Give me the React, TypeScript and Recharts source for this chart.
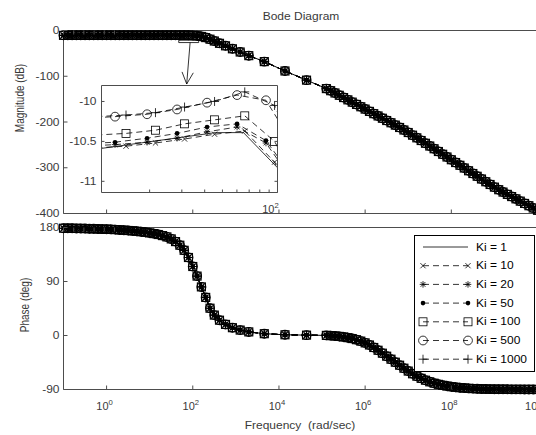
import React from 'react';
import { LineChart, Line, XAxis, YAxis, Legend, ReferenceArea, ReferenceLine } from 'recharts';

// log10 of frequency in rad/sec, shared by magnitude and phase
const logFreq = [
  -1.0, -0.9, -0.8, -0.7, -0.6, -0.5, -0.4, -0.3, -0.2, -0.1,
  0.0, 0.1, 0.2, 0.3, 0.4, 0.5, 0.6, 0.7, 0.8, 0.9,
  1.0, 1.1, 1.2, 1.3, 1.4, 1.5, 1.6, 1.7, 1.8, 1.9,
  2.0, 2.1, 2.2, 2.3, 2.4, 2.5, 2.62, 2.76, 2.92, 3.1,
  3.3, 3.66, 4.14, 4.64, 5.1, 5.2, 5.3, 5.4, 5.5, 5.6,
  5.7, 5.8, 5.9, 6.0, 6.1, 6.2, 6.3, 6.4, 6.5, 6.6,
  6.7, 6.8, 6.9, 7.0, 7.1, 7.2, 7.3, 7.4, 7.5, 7.6,
  7.7, 7.8, 7.9, 8.0, 8.1, 8.2, 8.3, 8.4, 8.5, 8.6,
  8.7, 8.8, 8.9, 9.0, 9.1, 9.2, 9.3, 9.4, 9.5, 9.6,
  9.7, 9.8, 9.9, 10.0,
];

const magnitudeDb = [
  -10.6, -10.6, -10.6, -10.6, -10.6, -10.6, -10.6, -10.6, -10.6, -10.6,
  -10.6, -10.6, -10.6, -10.6, -10.6, -10.6, -10.6, -10.6, -10.6, -10.55,
  -10.5, -10.45, -10.4, -10.38, -10.35, -10.3, -10.25, -10.2, -10.15, -10.3,
  -10.7, -11.5, -13, -15.5, -19, -23, -28, -33.5, -40, -47,
  -55, -68, -88.5, -108.5, -127, -131.6, -136.6, -141.6, -146.6, -151.6,
  -156.6, -161.6, -166.7, -171.8, -176.8, -181.8, -186.8, -191.8, -196.8, -201.7,
  -206.8, -212, -217.5, -223, -228.8, -234.6, -240.5, -246.5, -252.5, -258.5,
  -264.5, -270.5, -276.5, -282.5, -288.6, -294.6, -300.6, -306.6, -312.6, -318.6,
  -324.6, -330.6, -336.6, -342.4, -348, -353.2, -358.2, -363, -368, -373,
  -378, -383, -388, -393,
];

const phaseDeg = [
  178.8, 178.7, 178.6, 178.5, 178.4, 178.2, 178, 177.8, 177.6, 177.3,
  177.2, 176.9, 176.5, 176, 175.5, 175, 174.4, 173.7, 172.9, 172,
  171, 169.8, 168.3, 166.5, 164.3, 161, 156.5, 150.5, 142, 130,
  115, 99, 81, 63.5, 45.5, 34, 25.5, 18.5, 13, 9,
  6, 3, 1.2, 0.6, 0.2, -0.2, -0.8, -1.5, -2.4, -3.6,
  -5.1, -7, -9.4, -12.3, -15.8, -20, -24.6, -29.5, -34.5, -39.5,
  -44.5, -49.5, -54.5, -59.3, -63.8, -67.8, -71.4, -74.5, -77.2, -79.5,
  -81.4, -83, -84.3, -85.4, -86.3, -87, -87.6, -88.1, -88.5, -88.8,
  -89.1, -89.3, -89.4, -89.5, -89.6, -89.7, -89.7, -89.8, -89.8, -89.8,
  -89.9, -89.9, -89.9, -89.9,
];

// zoomed window near the resonance: each run was sampled on its own grid
const insetGridKi1 = [0.81, 1.661, 1.814, 2.0, 2.15];
const insetGridA = [0.948, 1.112, 1.287, 1.451, 1.615, 1.779, 1.937, 2.1];
const insetGridB = [1.01, 1.172, 1.333, 1.492, 1.656, 1.821, 1.984, 2.148];

const insetKi1 = [-10.66, -10.39, -10.39, -10.83, -11.6];
const insetKi10 = [-10.58, -10.56, -10.52, -10.47, -10.41, -10.37, -10.76, -11.6];
const insetKi20 = [-10.56, -10.54, -10.51, -10.46, -10.38, -10.32, -10.52, -11.05];
const insetKi50 = [-10.53, -10.51, -10.46, -10.4, -10.32, -10.28, -10.49, -11.0];
const insetKi100 = [-10.42, -10.4, -10.36, -10.28, -10.23, -10.18, -10.5, -11.2];
const insetKi500 = [-10.21, -10.19, -10.16, -10.1, -10.015, -9.92, -9.985, -10.59];
const insetKi1000 = [-10.19, -10.17, -10.14, -10.07, -10.0, -9.88, -10.05, -10.9];

const kiLabels = ['Ki = 1', 'Ki = 10', 'Ki = 20', 'Ki = 50', 'Ki = 100', 'Ki = 500', 'Ki = 1000'];

const decadeTicks = [0, 2, 4, 6, 8, 10];
const magTicks = [-400, -300, -200, -100, 0];
const phaseTicks = [-90, 0, 90, 180];
const insetMagTicks = [-11, -10.5, -10];
const insetFreqTicks = [20, 30, 40, 50, 60, 70, 80, 90, 100];

const FONT = "'Liberation Sans', Arial, Helvetica, sans-serif";
const INK = '#000';
const AXIS = '#4d4d4d';
const TEXT = '#3a3a3a';

type MarkerKind = 'none' | 'x' | 'star' | 'dot' | 'square' | 'circle' | 'plus';

const seriesStyle: { marker: MarkerKind; dash?: string }[] = [
  { marker: 'none' },
  { marker: 'x', dash: '6 4' },
  { marker: 'star', dash: '6 4' },
  { marker: 'dot', dash: '6 4' },
  { marker: 'square', dash: '6 4' },
  { marker: 'circle', dash: '6 4' },
  { marker: 'plus', dash: '6 4' },
];

const mainData = logFreq.map((w, i) => ({ w, mag: magnitudeDb[i], phase: phaseDeg[i] }));

const insetRuns = [
  { grid: insetGridKi1, mag: insetKi1 },
  { grid: insetGridB, mag: insetKi10 },
  { grid: insetGridA, mag: insetKi20 },
  { grid: insetGridA, mag: insetKi50 },
  { grid: insetGridB, mag: insetKi100 },
  { grid: insetGridA, mag: insetKi500 },
  { grid: insetGridB, mag: insetKi1000 },
].map((r) => r.grid.map((w, i) => ({ w, m: r.mag[i] })));

function Marker({ kind, cx, cy, sw = 0.8 }: { kind: MarkerKind; cx?: number; cy?: number; sw?: number }) {
  if (kind === 'none' || cx == null || cy == null || Number.isNaN(cx) || Number.isNaN(cy)) return null;
  const st = { stroke: INK, strokeWidth: sw, fill: 'none' };
  switch (kind) {
    case 'x': {
      const h = 2.6;
      return <path d={`M${cx - h},${cy - h}L${cx + h},${cy + h}M${cx - h},${cy + h}L${cx + h},${cy - h}`} {...st} />;
    }
    case 'star': {
      const h = 3.3;
      const d = 2.4;
      return (
        <path
          d={`M${cx - h},${cy}L${cx + h},${cy}M${cx},${cy - h}L${cx},${cy + h}M${cx - d},${cy - d}L${cx + d},${cy + d}M${cx - d},${cy + d}L${cx + d},${cy - d}`}
          {...st}
        />
      );
    }
    case 'dot':
      return <circle cx={cx} cy={cy} r={2.3} fill={INK} />;
    case 'square':
      return <rect x={cx - 4} y={cy - 4} width={8} height={8} {...st} />;
    case 'circle':
      return <circle cx={cx} cy={cy} r={4.4} {...st} />;
    case 'plus': {
      const h = 4.5;
      return <path d={`M${cx - h},${cy}L${cx + h},${cy}M${cx},${cy - h}L${cx},${cy + h}`} {...st} />;
    }
  }
  return null;
}

const dotFor = (kind: MarkerKind, sw = 0.8) =>
  kind === 'none' ? false : (p: any) => <Marker key={`m${p.index}`} kind={kind} cx={p.cx} cy={p.cy} sw={sw} />;

// text in the figure is drawn a little wide, like the exported original
function SText({ x, y, anchor = 'start', size = 10, rotate, fill = TEXT, children }: any) {
  const t = `translate(${x},${y}) scale(1.2,1)` + (rotate ? ` rotate(${rotate})` : '');
  return (
    <text transform={t} textAnchor={anchor} fontFamily={FONT} fontSize={size} fill={fill} style={{ whiteSpace: 'pre' }}>
      {children}
    </text>
  );
}

const markTick = (side: 'bottom' | 'top' | 'left' | 'right', len: number) => (p: any) => {
  const dx = side === 'left' ? len : side === 'right' ? -len : 0;
  const dy = side === 'bottom' ? -len : side === 'top' ? len : 0;
  return <line x1={p.x} y1={p.y} x2={p.x + dx} y2={p.y + dy} stroke={AXIS} strokeWidth={1} />;
};

const leftTick = (len: number, gap: number) => (p: any) => (
  <g>
    <line x1={p.x} y1={p.y} x2={p.x + len} y2={p.y} stroke={AXIS} strokeWidth={1} />
    <SText x={p.x - gap} y={p.y + 3.6} anchor="end">
      {String(p.payload.value)}
    </SText>
  </g>
);

const PowerLabel = ({ x, y, exp }: { x: number; y: number; exp: string | number }) => (
  <text transform={`translate(${x},${y}) scale(1.1,1)`} textAnchor="middle" fontFamily={FONT} fontSize={10} fill={TEXT}>
    10
    <tspan dy={-5} fontSize={7}>
      {exp}
    </tspan>
  </text>
);

const decadeTick = (len: number, withLabel: boolean) => (p: any) => (
  <g>
    <line x1={p.x} y1={p.y} x2={p.x} y2={p.y - len} stroke={AXIS} strokeWidth={1} />
    {withLabel && <PowerLabel x={p.x - 2} y={p.y + 20.5} exp={Math.round(p.payload.value)} />}
  </g>
);

const insetFreqTick = (p: any) => {
  const isDecade = Math.abs(p.payload.value - 2) < 1e-6;
  return (
    <g>
      <line x1={p.x} y1={p.y} x2={p.x} y2={p.y - 3} stroke={AXIS} strokeWidth={1} />
      {isDecade && <PowerLabel x={p.x - 7} y={p.y + 20.5} exp={2} />}
    </g>
  );
};

const ArrowShape = (p: any) => {
  const { x1, y1, x2, y2 } = p;
  const ang = Math.atan2(y2 - y1, x2 - x1);
  const L = 13;
  const s = 0.45;
  const a1 = ang + Math.PI - s;
  const a2 = ang + Math.PI + s;
  return (
    <g>
      <line x1={x1} y1={y1} x2={x2} y2={y2} stroke={INK} strokeWidth={0.8} />
      <path
        d={`M${x2 + L * Math.cos(a1)},${y2 + L * Math.sin(a1)}L${x2},${y2}L${x2 + L * Math.cos(a2)},${y2 + L * Math.sin(a2)}`}
        fill="none"
        stroke={INK}
        strokeWidth={0.8}
      />
    </g>
  );
};

const renderLegend = (props: any) => {
  const payload: any[] = props.payload ?? [];
  const rows = kiLabels
    .map((label, i) => ({ label, i, entry: payload.find((e) => e.value === label) }))
    .filter((r) => r.entry);
  return (
    <svg width={121} height={137} style={{ display: 'block' }}>
      <rect x={0.5} y={0.5} width={120} height={136} fill="#fff" stroke={INK} strokeWidth={1} />
      {rows.map(({ label, i }) => {
        const cy = 12 + i * 18.7;
        const st = seriesStyle[i];
        return (
          <g key={label}>
            <line x1={9} y1={cy} x2={54} y2={cy} stroke={INK} strokeWidth={0.8} strokeDasharray={st.dash} />
            <Marker kind={st.marker} cx={9} cy={cy} />
            <Marker kind={st.marker} cx={54} cy={cy} />
            <SText x={62} y={cy + 3.6} fill={INK}>
              {label}
            </SText>
          </g>
        );
      })}
    </svg>
  );
};

// axes need a non-zero size to be drawn; margins below leave room for that 1px
const axisCommon = { tickLine: false, tickSize: 0, tickMargin: 0, interval: 0 as const, axisLine: { stroke: AXIS } };

const MAIN_MARK = 1.15;

export default function App() {
  return (
    <div style={{ position: 'absolute', left: 0, top: 0, width: 536, height: 435, overflow: 'hidden', background: '#fff' }}>
      {/* magnitude */}
      <div style={{ position: 'absolute', left: 0, top: 0 }}>
        <LineChart width={600} height={435} data={mainData} margin={{ top: 29.5, right: 61.5, bottom: 220.5, left: 62.5 }}>
          <XAxis dataKey="w" type="number" domain={[-1, 10]} ticks={decadeTicks} height={1} {...axisCommon} tick={decadeTick(4, false)} />
          <XAxis xAxisId="top" orientation="top" type="number" domain={[-1, 10]} ticks={decadeTicks} height={1} {...axisCommon} tick={markTick('top', 4)} />
          <YAxis type="number" domain={[-400, 0]} ticks={magTicks} width={1} {...axisCommon} tick={leftTick(4, 4)} />
          <YAxis yAxisId="right" orientation="right" type="number" domain={[-400, 0]} ticks={magTicks} width={1} {...axisCommon} tick={markTick('right', 4)} />
          {seriesStyle.map((s, i) => (
            <Line
              key={kiLabels[i]}
              dataKey="mag"
              name={kiLabels[i]}
              type="linear"
              stroke={INK}
              strokeWidth={1}
              strokeDasharray={s.dash}
              dot={dotFor(s.marker, MAIN_MARK)}
              activeDot={false}
              isAnimationActive={false}
            />
          ))}
          <ReferenceArea x1={1.674} x2={2.137} y1={-26.4} y2={-21.3} fill="none" stroke={INK} strokeWidth={0.8} />
          <ReferenceLine
            segment={[
              { x: 1.938, y: -26.4 },
              { x: 1.859, y: -117 },
            ]}
            shape={ArrowShape}
          />
        </LineChart>
      </div>

      {/* phase */}
      <div style={{ position: 'absolute', left: 0, top: 0 }}>
        <LineChart width={600} height={435} data={mainData} margin={{ top: 226.5, right: 61.5, bottom: 44.5, left: 62.5 }}>
          <XAxis dataKey="w" type="number" domain={[-1, 10]} ticks={decadeTicks} height={1} {...axisCommon} tick={decadeTick(4, true)} />
          <XAxis xAxisId="top" orientation="top" type="number" domain={[-1, 10]} ticks={decadeTicks} height={1} {...axisCommon} tick={markTick('top', 4)} />
          <YAxis type="number" domain={[-90, 180]} ticks={phaseTicks} width={1} {...axisCommon} tick={leftTick(4, 4)} />
          <YAxis yAxisId="right" orientation="right" type="number" domain={[-90, 180]} ticks={phaseTicks} width={1} {...axisCommon} tick={markTick('right', 4)} />
          {seriesStyle.map((s, i) => (
            <Line
              key={kiLabels[i]}
              dataKey="phase"
              name={kiLabels[i]}
              type="linear"
              stroke={INK}
              strokeWidth={1}
              strokeDasharray={s.dash}
              dot={dotFor(s.marker, MAIN_MARK)}
              activeDot={false}
              isAnimationActive={false}
            />
          ))}
          <Legend
            layout="horizontal"
            align="center"
            verticalAlign="middle"
            content={renderLegend}
            wrapperStyle={{ left: 414, top: 235, width: 121, height: 137 }}
          />
        </LineChart>
      </div>

      {/* zoomed inset */}
      <div style={{ position: 'absolute', left: 0, top: 0 }}>
        <LineChart width={600} height={435} margin={{ top: 84.5, right: 321.5, bottom: 241.5, left: 100.5 }}>
          <XAxis
            dataKey="w"
            type="number"
            domain={[1.038, 2.0]}
            allowDataOverflow
            ticks={insetFreqTicks.map((f) => Math.log10(f))}
            height={1}
            {...axisCommon}
            tick={insetFreqTick}
          />
          <XAxis xAxisId="top" orientation="top" type="number" domain={[1.038, 2.0]} allowDataOverflow height={1} {...axisCommon} tick={false} />
          <YAxis type="number" domain={[-11.14, -9.8]} allowDataOverflow ticks={insetMagTicks} width={1} {...axisCommon} tick={leftTick(3, 5)} />
          <YAxis yAxisId="right" orientation="right" type="number" domain={[-11.14, -9.8]} allowDataOverflow ticks={insetMagTicks} width={1} {...axisCommon} tick={markTick('right', 3)} />
          {seriesStyle.map((s, i) => (
            <Line
              key={kiLabels[i]}
              data={insetRuns[i]}
              dataKey="m"
              name={kiLabels[i]}
              type="linear"
              stroke={INK}
              strokeWidth={0.8}
              strokeDasharray={s.dash}
              dot={dotFor(s.marker)}
              activeDot={false}
              isAnimationActive={false}
            />
          ))}
        </LineChart>
      </div>

      {/* titles */}
      <svg width={536} height={435} style={{ position: 'absolute', left: 0, top: 0, pointerEvents: 'none' }}>
        <SText x={301} y={20} anchor="middle">
          Bode Diagram
        </SText>
        <SText x={300} y={429} anchor="middle">
          {'Frequency  (rad/sec)'}
        </SText>
        <SText x={23.5} y={98} anchor="middle" rotate={-90}>
          Magnitude (dB)
        </SText>
        <SText x={28.5} y={305} anchor="middle" rotate={-90}>
          Phase (deg)
        </SText>
      </svg>
    </div>
  );
}
